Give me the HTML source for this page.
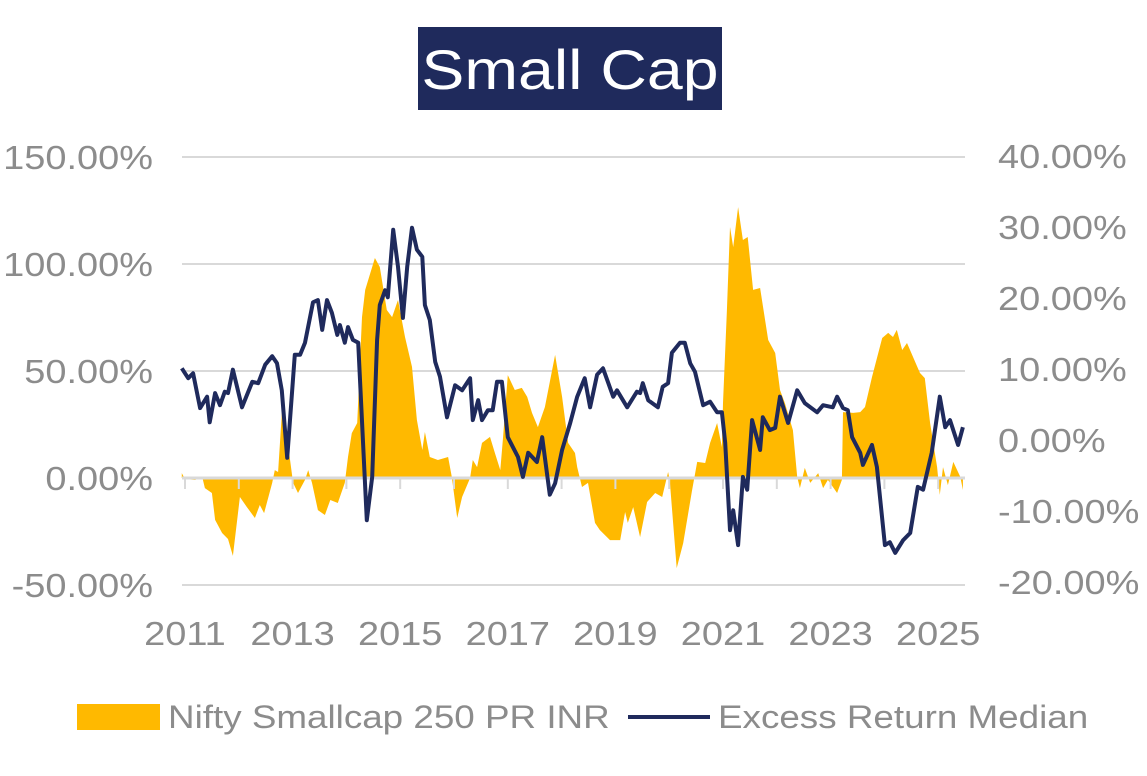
<!DOCTYPE html>
<html><head><meta charset="utf-8"><style>
html,body{margin:0;padding:0;background:#fff;width:1147px;height:776px;overflow:hidden}
svg text{font-family:"Liberation Sans",sans-serif}
</style></head><body>
<svg id="chart" width="1147" height="776" viewBox="0 0 1147 776">
<rect x="418" y="27" width="304" height="83" fill="#1f2a5c"/>
<text class="sc" x="570" y="89" text-anchor="middle" font-size="56" fill="#fff">Small Cap</text>
<g id="grid"></g><g id="area"></g><g id="zero"></g><g id="line"></g><g id="axes"></g>
<g>
<rect x="77" y="704" width="83" height="26" fill="#ffb900"/>
<text class="sc" x="168" y="728" font-size="32" fill="#8c8c8c">Nifty Smallcap 250 PR INR</text>
<line x1="628" y1="717" x2="710" y2="717" stroke="#1f2a5c" stroke-width="4"/>
<text class="sc" x="718" y="728" font-size="32" fill="#8c8c8c">Excess Return Median</text>
</g>
</svg>
<script>
const leftTicks=[150,100,50,0,-50];
const rightTicks=[40,30,20,10,0,-10,-20];
const xTickLabels=[2011,2013,2015,2017,2019,2021,2023,2025];
const areaYears=[2010.94,2011.00,2011.19,2011.32,2011.37,2011.50,2011.56,2011.69,2011.80,2011.89,2012.02,2012.15,2012.30,2012.39,2012.47,2012.62,2012.67,2012.73,2012.82,2012.91,2013.01,2013.10,2013.23,2013.29,2013.36,2013.47,2013.60,2013.70,2013.84,2013.97,2014.03,2014.10,2014.20,2014.29,2014.35,2014.53,2014.62,2014.75,2014.85,2014.96,2015.09,2015.22,2015.31,2015.41,2015.46,2015.55,2015.70,2015.89,2015.96,2016.06,2016.15,2016.30,2016.35,2016.43,2016.52,2016.67,2016.76,2016.86,2016.91,2017.00,2017.13,2017.26,2017.36,2017.45,2017.56,2017.69,2017.88,2018.01,2018.12,2018.25,2018.29,2018.38,2018.49,2018.62,2018.71,2018.90,2019.09,2019.18,2019.23,2019.33,2019.46,2019.59,2019.74,2019.87,2019.98,2020.01,2020.14,2020.26,2020.42,2020.52,2020.67,2020.76,2020.89,2020.98,2021.00,2021.07,2021.13,2021.19,2021.28,2021.37,2021.46,2021.56,2021.69,2021.84,2021.97,2022.06,2022.15,2022.30,2022.38,2022.43,2022.52,2022.62,2022.77,2022.86,2022.95,2023.12,2023.21,2023.23,2023.42,2023.55,2023.64,2023.77,2023.96,2024.07,2024.16,2024.23,2024.33,2024.42,2024.66,2024.75,2024.85,2024.98,2025.03,2025.09,2025.18,2025.28,2025.41,2025.46];
const areaValues=[2.3,-0.5,-0.9,0.5,-4.7,-7.0,-19.6,-25.7,-28.5,-36.4,-8.9,-13.6,-18.7,-12.6,-16.4,-2.3,3.7,2.8,37.9,16.4,-2.3,-7.0,-0.9,3.7,-2.3,-15.0,-17.3,-10.3,-11.7,-2.3,9.8,21.0,25.7,75.2,87.9,102.8,98.6,78.5,75.2,83.2,65.9,51.9,27.1,13.1,21.5,9.8,8.4,9.8,0.5,-18.7,-8.9,0,8.4,5.1,16.4,19.2,11.7,3.7,18.7,48.1,41.1,42.1,37.9,30.4,23.8,33.2,57.5,37.9,16.4,11.7,5.1,-4.2,-2.3,-21.0,-24.3,-29.0,-29.0,-15.9,-21.0,-13.6,-27.6,-11.2,-7.0,-8.9,2.8,-0.9,-42.1,-30.4,-6.5,7.5,7.0,16.4,25.7,14.5,35.0,77.1,117.3,107.9,126.6,111.2,112.6,87.9,88.8,64.5,58.4,41.1,35.0,22.4,0.5,-4.7,4.7,-2.3,2.3,-4.7,-0.9,-7.0,-0.9,30.8,30.4,30.8,33.2,47.2,65.4,67.8,65.9,69.2,59.8,63.1,49.1,46.7,25.7,5.1,-7.9,5.1,-3.3,7.5,0.5,-5.6];
const lineYears=[2010.94,2011.06,2011.15,2011.28,2011.41,2011.46,2011.56,2011.65,2011.74,2011.80,2011.89,2012.06,2012.25,2012.36,2012.49,2012.62,2012.71,2012.80,2012.90,2013.04,2013.14,2013.23,2013.38,2013.47,2013.55,2013.64,2013.73,2013.83,2013.88,2013.97,2014.03,2014.12,2014.22,2014.38,2014.48,2014.57,2014.62,2014.72,2014.77,2014.87,2014.96,2015.05,2015.13,2015.22,2015.31,2015.41,2015.46,2015.55,2015.65,2015.74,2015.87,2016.02,2016.15,2016.30,2016.35,2016.45,2016.52,2016.63,2016.72,2016.80,2016.89,2017.00,2017.19,2017.28,2017.38,2017.54,2017.64,2017.78,2017.88,2018.01,2018.16,2018.29,2018.43,2018.53,2018.66,2018.77,2018.96,2019.03,2019.22,2019.40,2019.46,2019.51,2019.61,2019.79,2019.88,2019.98,2020.05,2020.20,2020.29,2020.39,2020.48,2020.63,2020.76,2020.89,2020.98,2021.04,2021.13,2021.19,2021.28,2021.37,2021.45,2021.54,2021.69,2021.74,2021.87,2021.97,2022.06,2022.21,2022.38,2022.52,2022.75,2022.86,2023.04,2023.12,2023.23,2023.32,2023.40,2023.55,2023.60,2023.77,2023.86,2024.01,2024.10,2024.20,2024.35,2024.48,2024.62,2024.72,2024.88,2025.03,2025.13,2025.22,2025.37,2025.46];
const lineValues=[10.1,8.7,9.4,4.5,6.1,2.5,6.6,4.9,6.8,6.6,9.9,4.6,8.2,8.0,10.6,11.8,10.8,7.0,-2.5,12.0,12.0,13.7,19.4,19.7,15.5,19.7,17.9,14.8,16.2,13.7,15.9,14.1,13.7,-11.3,-5.2,14.1,19.0,21.1,20.1,29.6,24.4,17.2,24.4,29.9,26.8,25.8,19.0,16.9,11.0,8.9,3.2,7.7,7.0,8.7,2.8,5.6,2.8,4.2,4.2,8.2,8.2,0.4,-2.4,-5.2,-1.8,-3.1,0.4,-7.7,-6.1,-1.4,2.4,6.1,8.7,4.6,9.2,10.1,6.1,7.0,4.6,6.8,6.6,8.0,5.6,4.6,7.5,8.0,12.3,13.7,13.7,10.8,9.6,4.9,5.4,3.9,3.9,-0.4,-12.7,-9.9,-14.8,-5.2,-7.0,2.8,-1.4,3.2,1.4,1.7,6.1,2.4,7.0,5.2,3.9,4.9,4.6,6.1,4.5,4.2,0.4,-1.8,-3.5,-0.7,-3.8,-14.8,-14.4,-15.9,-14.1,-13.1,-6.6,-7.0,-1.8,6.1,1.8,2.8,-0.7,1.8];

const NS='http://www.w3.org/2000/svg';
const X0=182,X1=965;
const xs=y=>185+(y-2011)*53.8;
const yl=v=>478-v*107/50;
const yr=v=>440-v*7.1;
function mk(tag,attrs,parent){const e=document.createElementNS(NS,tag);for(const k in attrs)e.setAttribute(k,attrs[k]);parent.appendChild(e);return e;}
const grid=document.getElementById('grid'),axes=document.getElementById('axes');
leftTicks.forEach(v=>{
  if(v!==0){const l=mk('line',{x1:X0,x2:X1,y1:yl(v),y2:yl(v),stroke:'#d9d9d9','stroke-width':2},grid);
  
  }
  const t=mk('text',{x:153,y:yl(v)+12,'text-anchor':'end','font-size':33,fill:'#8c8c8c',class:'sc'},axes);
  t.textContent=v.toFixed(2)+'%';
  
  
});
rightTicks.forEach(v=>{
  const t=mk('text',{x:998,y:yr(v)+12,'font-size':33,fill:'#8c8c8c',class:'sc'},axes);
  t.textContent=v.toFixed(2)+'%';
  
  
});
xTickLabels.forEach(y=>{
  const t=mk('text',{x:xs(y),y:645,'text-anchor':'middle','font-size':33,fill:'#8c8c8c',class:'sc'},axes);
  t.textContent=y;
  
  
});
let d='M'+xs(areaYears[0])+','+yl(0);
areaYears.forEach((y,i)=>{d+=' L'+xs(y).toFixed(1)+','+yl(areaValues[i]).toFixed(1);});
d+=' L'+xs(areaYears[areaYears.length-1])+','+yl(0)+' Z';
const ar=mk('path',{d:d,fill:'#ffb900'},document.getElementById('area'));


const zg=document.getElementById('zero');
const zl=mk('line',{x1:X0,x2:X1,y1:yl(0),y2:yl(0),stroke:'#d9d9d9','stroke-width':3},zg);


for(let y=2011;y<=2025;y++){
  const tk=mk('line',{x1:xs(y),x2:xs(y),y1:yl(0),y2:yl(0)+11,stroke:'#d9d9d9','stroke-width':2},zg);
  
  
}
const pts=lineYears.map((y,i)=>xs(y).toFixed(1)+','+yr(lineValues[i]).toFixed(1)).join(' ');
const pl=mk('polyline',{points:pts,fill:'none',stroke:'#1f2a5c','stroke-width':4,'stroke-linejoin':'round'},document.getElementById('line'));


// widen text to match reference font metrics
document.querySelectorAll('text.sc').forEach(t=>{
  const w=t.getComputedTextLength();
  t.setAttribute('textLength',(w*1.15).toFixed(1));
  t.setAttribute('lengthAdjust','spacingAndGlyphs');
});
</script>
</body></html>
